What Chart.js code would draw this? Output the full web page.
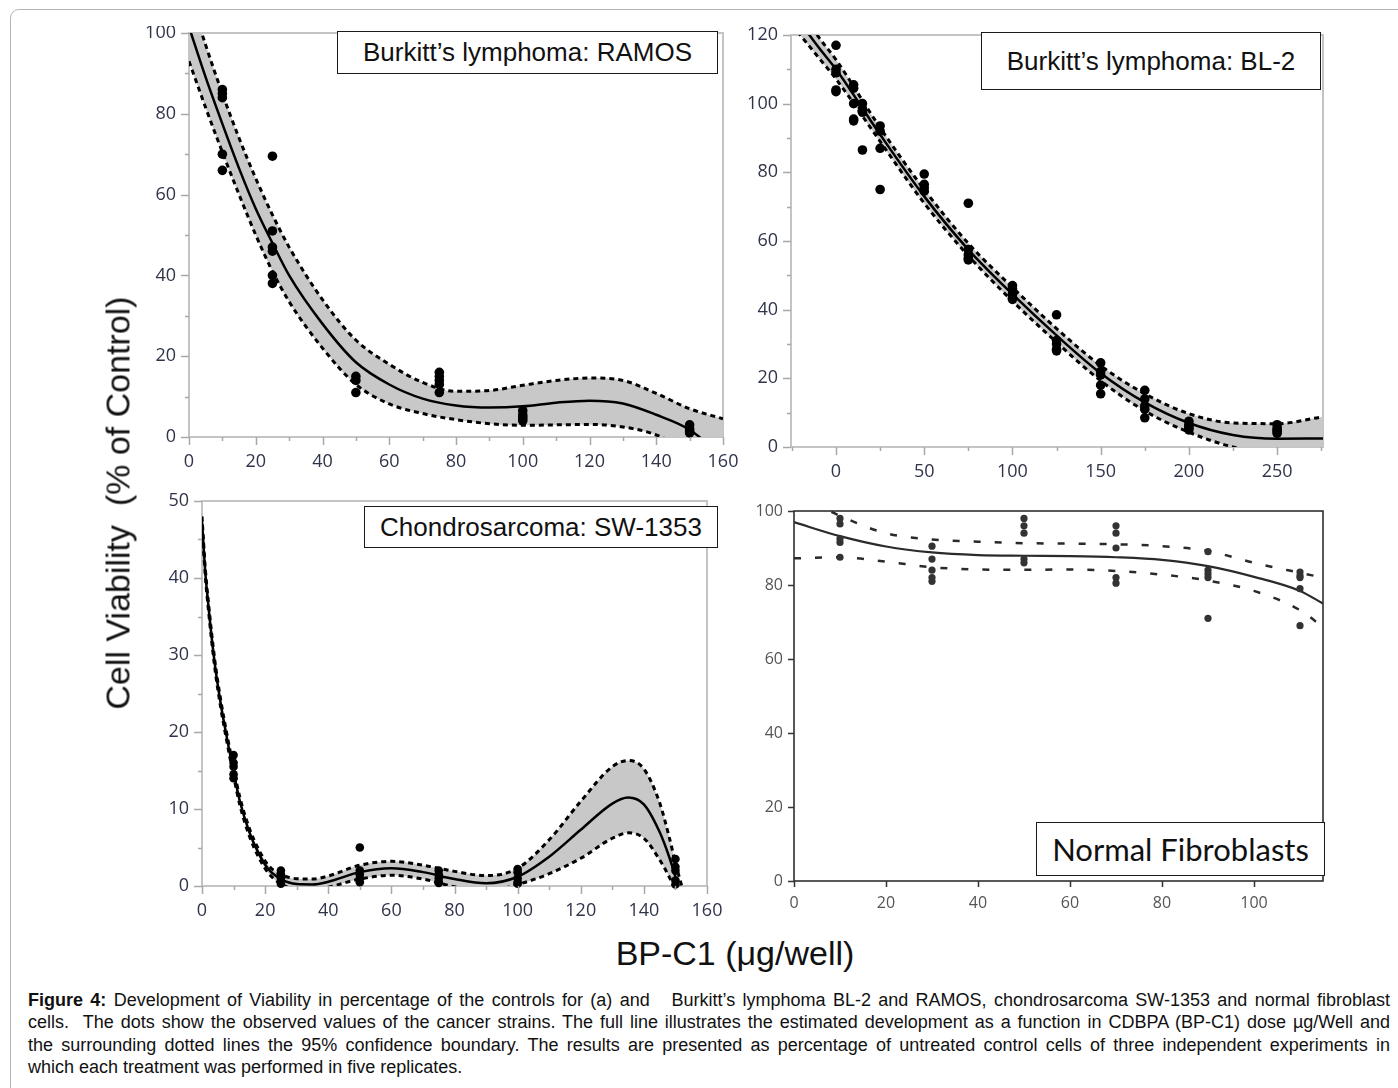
<!DOCTYPE html>
<html>
<head>
<meta charset="utf-8">
<script src="https://cdn.jsdelivr.net/npm/chart.js@4.4.0/dist/chart.umd.min.js"></script>
<style>
body{margin:0;width:1398px;height:1088px;background:#fff;position:relative;overflow:hidden;font-family:"Liberation Sans",Arial,sans-serif}
.frame{position:absolute;left:10px;top:9px;width:1400px;height:1100px;border:1px solid #b5b5b5;border-radius:9px;box-sizing:border-box}
.cv{position:absolute}
.box{position:absolute;border:1.5px solid #1a1a1a;background:#fff;display:flex;align-items:center;justify-content:center;font-size:26px;color:#111;box-sizing:border-box;white-space:nowrap}
.ytitle{position:absolute;left:118px;top:503px;transform:translate(-50%,-50%) rotate(-90deg);font-size:34px;color:#111;white-space:pre}
.xtitle{position:absolute;left:735px;top:953px;transform:translate(-50%,-50%);font-size:34px;color:#111;white-space:nowrap}
.cap{position:absolute;left:28px;top:989px;width:1362px;font-size:18px;line-height:22.4px;color:#111}
.cap div{text-align:justify;text-align-last:justify;white-space:nowrap}
.cap div.last{text-align-last:left}
</style>
</head>
<body>
<div class="frame"></div>
<canvas id="c1" class="cv" style="left:130px;top:26px" width="610" height="460"></canvas>
<canvas id="c2" class="cv" style="left:740px;top:26px" width="600" height="474"></canvas>
<canvas id="c3" class="cv" style="left:140px;top:490px" width="585" height="440"></canvas>
<canvas id="c4" class="cv" style="left:740px;top:500px" width="600" height="430"></canvas>

<div class="box" style="left:337px;top:31px;width:381px;height:43px">Burkitt’s lymphoma: RAMOS</div>
<div class="box" style="left:981px;top:32px;width:340px;height:58px">Burkitt’s lymphoma: BL-2</div>
<div class="box" style="left:364px;top:506px;width:354px;height:42px">Chondrosarcoma: SW-1353</div>
<div class="box" style="left:1036px;top:822px;width:289px;height:54px;font-family:Lato,'Open Sans',sans-serif;font-size:31px">Normal Fibroblasts</div>

<div class="ytitle">Cell Viability  (% of Control)</div>
<div class="xtitle">BP-C1 (μg/well)</div>

<div class="cap">
<div><b>Figure 4:</b> Development of Viability in percentage of the controls for (a) and &nbsp; Burkitt’s lymphoma BL-2 and RAMOS, chondrosarcoma SW-1353 and normal fibroblast</div>
<div>cells. &nbsp;The dots show the observed values of the cancer strains. The full line illustrates the estimated development as a function in CDBPA (BP-C1) dose µg/Well and</div>
<div>the surrounding dotted lines the 95% confidence boundary. The results are presented as percentage of untreated control cells of three independent experiments in</div>
<div class="last">which each treatment was performed in five replicates.</div>
</div>

<script>
'use strict';

// RAMOS
const ramosDoses = [10, 25, 50, 75, 100, 150];
const ramosObs = [
    [86, 85, 84, 70, 66],
    [69.5, 51, 47, 46, 40, 38],
    [15, 14, 11],
    [16, 15, 14, 13, 11],
    [6.5, 5.5, 5, 4.5, 4],
    [3, 2, 1.5, 1]
];
const ramosCurveX = [0, 5, 10, 15, 20, 25, 30, 40, 50, 60, 70, 80, 90, 100, 110, 120, 130, 140, 150, 160];
const ramosFit   = [101.5, 89, 77.5, 66.5, 56.5, 48, 40, 28, 18.5, 13, 9.5, 7.8, 7.3, 7.6, 8.5, 9, 8.3, 5.5, 1.8, -5];
const ramosUpper = [110, 97, 85, 74, 64, 55, 47, 34, 24, 18, 13.5, 11.3, 11.5, 12.8, 14, 14.6, 14, 10.8, 7, 4.5];
const ramosLower = [93, 81.5, 70.5, 60, 50, 41, 33.5, 22, 13, 8.2, 5.8, 4.3, 3.3, 2.9, 3, 3.1, 2.5, 0.5, -4, -12];

// BL-2
const blDoses = [0, 10, 15, 25, 50, 75, 100, 125, 150, 175, 200, 250];
const blObs = [
    [117, 110, 109, 104, 103.5],
    [105.5, 104.5, 100, 95.5, 95],
    [100, 98.5, 97.5, 86.5],
    [93.5, 92, 87, 75],
    [79.5, 76.5, 75.5, 74.5],
    [71, 57.5, 56, 55, 54.5],
    [47, 46, 44.5, 43.5, 43],
    [38.5, 31, 30, 28.5, 28],
    [24.5, 22, 21, 18, 15.5],
    [16.5, 14, 12, 11, 8.5],
    [7.5, 6.5, 6, 5.5, 5],
    [6.5, 5.5, 5, 4.5, 4]
];
const blCurveX = [-25, -10, 0, 25, 50, 75, 100, 125, 150, 175, 200, 225, 250, 276];
const blFit   = [127, 116.5, 110, 91, 73, 57.5, 44.5, 32.5, 21.5, 13, 7, 3.5, 2.4, 2.5];
const blUpper = [131, 119.5, 112.8, 93, 75, 59.3, 46.5, 34.5, 23.7, 15.5, 9.7, 7, 6.8, 8.8];
const blLower = [123, 113.5, 107.2, 89, 71, 55.7, 42.5, 30.5, 19.3, 10.5, 4.3, 0, -2, -3.8];

// SW-1353
const chDoses = [10, 25, 50, 75, 100, 150];
const chObs = [
    [17, 16, 15.5, 14.5, 14],
    [2, 1.5, 1, 0.5, 0.3],
    [5, 2, 1.5, 1, 0.5],
    [2, 1.5, 1, 0.5, 0.4],
    [2.2, 1.8, 1, 0.5, 0.3],
    [3.5, 2.5, 2, 0.7, 0.2]
];
const chCurveX = [0, 1, 2, 4, 6, 8, 10, 12, 15, 18, 21, 25, 30, 35, 40, 50, 60, 70, 80, 90, 100, 110, 120, 130, 135, 140, 145, 148, 150, 152];
const chFit   = [47.5, 41, 36.5, 29, 23.5, 19, 14.8, 11, 7, 4.2, 2.2, 0.9, 0.25, 0.2, 0.55, 1.8, 2.3, 1.8, 0.9, 0.35, 1.2, 3.8, 7.3, 10.7, 11.5, 10.6, 7, 3.8, 1.2, -1.5];
const chUpper = [48, 41.5, 37, 29.5, 24, 19.5, 15.3, 11.5, 7.5, 4.7, 2.7, 1.5, 0.95, 0.9, 1.3, 2.7, 3.2, 2.7, 1.9, 1.35, 2.3, 6, 11, 15.5, 16.3, 15.2, 10.8, 6.4, 3, 0];
const chLower = [47, 40.5, 36, 28.5, 23, 18.5, 14.3, 10.5, 6.5, 3.7, 1.7, 0.3, -0.45, -0.5, -0.15, 0.9, 1.4, 0.9, -0.1, -0.65, 0.2, 1.6, 3.6, 6.2, 6.9, 6.2, 3.4, 1.2, -0.6, -3];

// Normal fibroblasts
const fibDoses = [10, 30, 50, 70, 90, 110];
const fibObs = [
    [98, 96.5, 92.5, 91.5, 87.5],
    [90.5, 87, 84, 82, 81],
    [98, 96, 94, 87, 86],
    [96, 94, 90, 82, 80.5],
    [89, 84, 83, 82, 71],
    [83.5, 82.5, 82, 79, 69]
];
const fibCurveX = [0, 10, 20, 30, 40, 50, 60, 70, 80, 90, 100, 110, 115];
const fibFit   = [97, 93.2, 90.4, 88.8, 88.1, 87.9, 87.8, 87.5, 86.8, 85.1, 82.2, 78.4, 75];
const fibUpper = [105, 98.7, 94, 92.3, 91.7, 91.3, 91.2, 91, 90.5, 89.2, 86, 83.3, 82];
const fibLower = [87.2, 87.5, 86.3, 84.8, 84.2, 84.1, 84.2, 83.8, 82.8, 81.2, 78.4, 73.2, 68.6];

function pts(doses, obs){
    const out = [];
    doses.forEach((d, i) => obs[i].forEach(v => out.push({x: d, y: v})));
    return out;
}
function curve(xs, ys){
    return xs.map((x, i) => ({x: x, y: ys[i]}));
}
function stepTicks(min, max, step){
    const t = [];
    for(let v = Math.ceil(min / step) * step; v <= max + 1e-9; v += step){
        t.push({value: v});
    }
    return t;
}

// frame + major/minor tick marks
const axisDeco = {
    id: 'axisDeco',
    beforeDatasetsDraw(chart, args, o){
        const {ctx, chartArea: a} = chart;
        ctx.save();
        ctx.lineWidth = o.frameWidth;
        ctx.strokeStyle = o.frameColor;
        ctx.strokeRect(a.left, a.top, a.right - a.left, a.bottom - a.top);
        ctx.restore();
    },
    afterDraw(chart, args, o){
        const {ctx, chartArea: a, scales} = chart;
        const x = scales.x, y = scales.y;
        ctx.save();
        ctx.strokeStyle = o.tickColor;
        ctx.lineWidth = o.tickWidth;
        ctx.beginPath();
        for(let v = Math.ceil(x.min / o.xMinor) * o.xMinor; v <= x.max + 1e-9; v += o.xMinor){
            const len = Math.abs(v % o.xMajor) < 1e-6 ? o.majorLen : o.minorLen;
            const px = Math.round(x.getPixelForValue(v)) + 0.5;
            ctx.moveTo(px, a.bottom);
            ctx.lineTo(px, a.bottom + len);
        }
        for(let v = Math.ceil(y.min / o.yMinor) * o.yMinor; v <= y.max + 1e-9; v += o.yMinor){
            const len = Math.abs(v % o.yMajor) < 1e-6 ? o.majorLen : o.minorLen;
            const py = Math.round(y.getPixelForValue(v)) + 0.5;
            ctx.moveTo(a.left, py);
            ctx.lineTo(a.left - len, py);
        }
        ctx.stroke();
        ctx.restore();
    }
};

function makePanel(id, p){
    const dashed = {
        showLine: true, pointRadius: 0, borderColor: p.lineColor, borderWidth: p.dashWidth,
        borderDash: p.dash, cubicInterpolationMode: 'monotone'
    };
    return new Chart(document.getElementById(id), {
        type: 'scatter',
        data: {
            datasets: [
                {data: pts(p.doses, p.obs), pointRadius: p.dot, pointHoverRadius: p.dot,
                 backgroundColor: p.dotColor, borderWidth: 0, clip: 8},
                {data: curve(p.cx, p.fit), showLine: true, pointRadius: 0, borderColor: p.lineColor,
                 borderWidth: p.fitWidth, cubicInterpolationMode: 'monotone'},
                Object.assign({data: curve(p.cx, p.upper)}, dashed),
                Object.assign({data: curve(p.cx, p.lower), fill: p.shade ? '-1' : false,
                    backgroundColor: '#c8c8c8'}, dashed)
            ]
        },
        options: {
            responsive: false,
            animation: false,
            events: [],
            layout: {autoPadding: false, padding: {top: p.padTop, right: p.padRight, left: 0, bottom: 0}},
            plugins: {
                legend: {display: false},
                tooltip: {enabled: false},
                axisDeco: {
                    frameColor: p.frameColor, frameWidth: p.frameWidth, tickColor: p.tickColor, tickWidth: 1.5,
                    majorLen: p.majorLen, minorLen: p.minorLen,
                    xMajor: p.xStep, xMinor: p.xMinor, yMajor: p.yStep, yMinor: p.yMinor
                }
            },
            scales: {
                x: {
                    type: 'linear', min: p.xMin, max: p.xMax,
                    border: {display: false},
                    grid: {display: false, tickLength: p.majorLen},
                    ticks: {padding: p.xPad, color: p.labelColor, maxRotation: 0, autoSkip: false,
                            font: {family: p.font, size: p.fontSize}},
                    afterBuildTicks: s => { s.ticks = stepTicks(p.xMin, p.xMax, p.xStep); },
                    afterFit: s => { s.height = p.xH; s.paddingLeft = 0; s.paddingRight = 0; }
                },
                y: {
                    min: p.yMin, max: p.yMax,
                    border: {display: false},
                    grid: {display: false, tickLength: p.majorLen},
                    ticks: {padding: p.yPad, color: p.labelColor, autoSkip: false,
                            font: {family: p.font, size: p.fontSize}},
                    afterBuildTicks: s => { s.ticks = stepTicks(p.yMin, p.yMax, p.yStep); },
                    afterFit: s => { s.width = p.yW; s.paddingTop = 0; s.paddingBottom = 0; }
                }
            }
        },
        plugins: [axisDeco]
    });
}

const jmpStyle = {
    lineColor: '#000', dotColor: '#000', dash: [5, 4], dashWidth: 3, fitWidth: 2.5, shade: true,
    frameColor: '#c4c4c4', frameWidth: 2, tickColor: '#a8a8a8', majorLen: 8, minorLen: 4,
    labelColor: '#30344a', font: '"Open Sans", "Noto Sans", sans-serif', fontSize: 18, xPad: 6, yPad: 5
};

makePanel('c1', Object.assign({}, jmpStyle, {
    doses: ramosDoses, obs: ramosObs, cx: ramosCurveX, fit: ramosFit, upper: ramosUpper, lower: ramosLower,
    dot: 4.8, xMin: 0, xMax: 160, xStep: 20, xMinor: 10, yMin: 0, yMax: 100, yStep: 20, yMinor: 10,
    padTop: 7, padRight: 17, yW: 59, xH: 49
}));

makePanel('c2', Object.assign({}, jmpStyle, {
    doses: blDoses, obs: blObs, cx: blCurveX, fit: blFit, upper: blUpper, lower: blLower,
    dot: 4.8, xMin: -25.5, xMax: 276, xStep: 50, xMinor: 25, yMin: 0, yMax: 120, yStep: 20, yMinor: 10,
    padTop: 9, padRight: 17, yW: 51, xH: 53
}));

makePanel('c3', Object.assign({}, jmpStyle, {
    doses: chDoses, obs: chObs, cx: chCurveX, fit: chFit, upper: chUpper, lower: chLower,
    dot: 4.3, xMin: 0, xMax: 160, xStep: 20, xMinor: 10, yMin: 0, yMax: 50, yStep: 10, yMinor: 5,
    padTop: 11, padRight: 18, yW: 62, xH: 44
}));

makePanel('c4', {
    doses: fibDoses, obs: fibObs, cx: fibCurveX, fit: fibFit, upper: fibUpper, lower: fibLower,
    lineColor: '#2a2a2a', dotColor: '#333', dash: [7, 14], dashWidth: 2.5, fitWidth: 2.2, shade: false,
    frameColor: '#222', frameWidth: 1.5, tickColor: '#333', majorLen: 6, minorLen: 0,
    labelColor: '#555', font: '"Open Sans", "Noto Sans", sans-serif', fontSize: 16, xPad: 7, yPad: 5,
    dot: 3.6, xMin: 0, xMax: 115, xStep: 20, xMinor: 20, yMin: 0, yMax: 100, yStep: 20, yMinor: 20,
    padTop: 11, padRight: 17, yW: 54, xH: 49
});
</script>
</body>
</html>
